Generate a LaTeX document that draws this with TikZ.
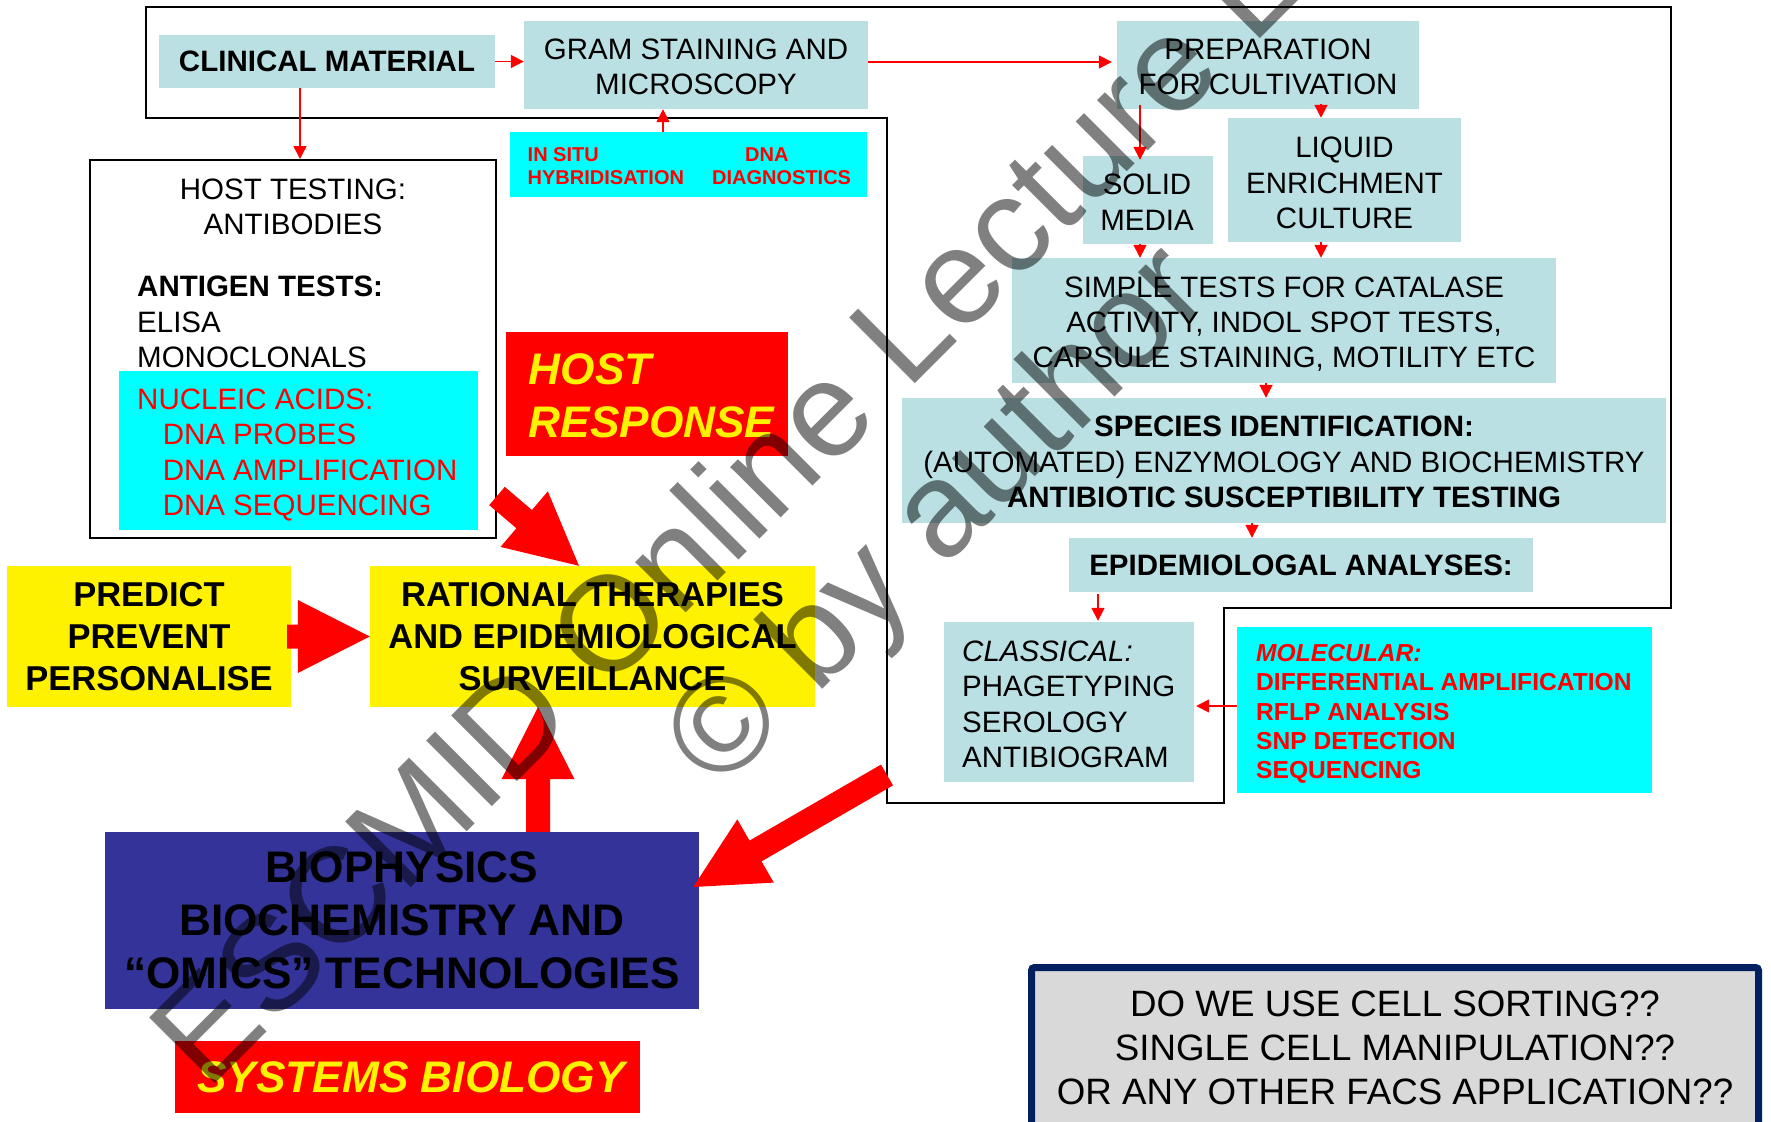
\documentclass[tikz,border=0pt]{standalone}
\usepackage{fontspec}
\setmainfont{Liberation Sans}
\usetikzlibrary{calc,arrows.meta}
\definecolor{lb}{RGB}{187,224,227}
\definecolor{cy}{RGB}{0,255,255}
\definecolor{bioblue}{RGB}{51,51,153}
\definecolor{facsgray}{RGB}{217,217,217}
\definecolor{navyb}{RGB}{0,32,96}
\definecolor{wmgray}{RGB}{128,128,128}
\newcommand\fmain{\fontsize{29.5pt}{35.4pt}\selectfont}
\newcommand\fsmall{\fontsize{20pt}{23.7pt}\selectfont}
\newcommand\fmol{\fontsize{24.6pt}{29.4pt}\selectfont}
\newcommand\fbig{\fontsize{34.5pt}{42pt}\selectfont}
\newcommand\fhuge{\fontsize{44.2pt}{52.8pt}\selectfont}
\newcommand\ffacs{\fontsize{36.7pt}{44pt}\selectfont}
\newcommand\fwm{\fontsize{135pt}{162pt}\selectfont}
\newcommand\blockarrow[2]{%
  \path ($(#2)!72pt!(#1)$) coordinate (bah);
  \fill[red] ($(#1)!12pt!90:(#2)$) -- ($(bah)!12pt!90:(#2)$) -- ($(bah)!36.5pt!90:(#2)$) -- (#2) -- ($(bah)!36.5pt!-90:(#2)$) -- ($(bah)!12pt!-90:(#2)$) -- ($(#1)!12pt!-90:(#2)$) -- cycle;}
\begin{document}
\begin{tikzpicture}[x=1pt,y=-1pt,
  lbbox/.style={fill=lb, inner sep=0pt, align=center},
  cybox/.style={fill=cy, inner sep=0pt},
  txt/.style={inner sep=0pt},
  bx/.style 2 args={minimum width=#1pt, minimum height=#2pt},
  tarrow/.style={draw=red, line width=1.6pt, -{Triangle[length=13pt,width=13pt]}},
  wmtext/.style={inner sep=0pt, font=\fwm, text=wmgray, rotate=45, anchor=base}]
\useasboundingbox (0,0) rectangle (1771,1121);
\fill[white] (0,0) rectangle (1771,1121);
% frame
\draw[line width=2pt, line join=miter] (146,7) -- (1671,7) -- (1671,608) -- (1224,608) -- (1224,803) -- (887,803) -- (887,118) -- (146,118) -- cycle;
% boxes
\node[lbbox, font=\fmain\bfseries, bx={336}{53}] (clin) at (327,61.5) {CLINICAL MATERIAL};
\node[lbbox, bx={344}{88}] (gram) at (696,65) {};
\node[txt, font=\fmain, align=center] (gramtxt) at (696,67) {GRAM STAINING AND\\MICROSCOPY};
\node[cybox, bx={357}{65}] (insitu) at (688.5,164.5) {};
\node[txt, anchor=west, font=\fsmall\bfseries, text=red, align=left] (insitutxt) at (527.5,166) {\makebox[217.5pt][l]{IN SITU}DNA\\\makebox[184.5pt][l]{HYBRIDISATION}DIAGNOSTICS};
\node[lbbox, bx={302}{88}] (prep) at (1268,65) {};
\node[txt, font=\fmain, align=center] (preptxt) at (1268,67) {PREPARATION\\FOR CULTIVATION};
\node[lbbox, bx={130}{88}] (solid) at (1148,200) {};
\node[txt, font=\fmain, align=center] (solidtxt) at (1147,202) {SOLID\\MEDIA};
\node[lbbox, bx={233}{124}] (liq) at (1344.5,180) {};
\node[txt, font=\fmain, align=center] (liqtxt) at (1344.5,183) {LIQUID\\ENRICHMENT\\CULTURE};
\node[lbbox, bx={544}{125}] (simple) at (1284,320.5) {};
\node[txt, font=\fmain, align=center] (simpletxt) at (1284,324) {SIMPLE TESTS FOR CATALASE\\ACTIVITY, INDOL SPOT TESTS,\\CAPSULE STAINING, MOTILITY ETC};
\node[lbbox, bx={764}{125}] (species) at (1284,460.5) {};
\node[txt, font=\fmain, align=center] (speciestxt) at (1284,462) {\textbf{SPECIES IDENTIFICATION:}\\(AUTOMATED) ENZYMOLOGY AND BIOCHEMISTRY\\\textbf{ANTIBIOTIC SUSCEPTIBILITY TESTING}};
\node[lbbox, font=\fmain\bfseries, bx={464}{54}] (epi) at (1301,565) {EPIDEMIOLOGAL ANALYSES:};
\node[lbbox, bx={250}{160}] (class) at (1069,702) {};
\node[txt, anchor=west, font=\fmain, align=left] (classtxt) at (962,704.5) {\textit{CLASSICAL:}\\PHAGETYPING\\SEROLOGY\\ANTIBIOGRAM};
\node[cybox, bx={415}{166}] (mol) at (1444.5,710) {};
\node[txt, anchor=west, font=\fmol\bfseries, text=red, align=left] (moltxt) at (1256,714) {\textit{MOLECULAR:}\\DIFFERENTIAL AMPLIFICATION\\RFLP ANALYSIS\\SNP DETECTION\\SEQUENCING};
\node[draw=black, line width=2pt, fill=white, inner sep=0pt, bx={406}{378}] (host) at (293,349) {};
\node[txt, font=\fmain, align=center] (hosttxt) at (293,207) {HOST TESTING:\\ANTIBODIES};
\node[txt, anchor=west, font=\fmain, align=left] (antigen) at (137,322) {\textbf{ANTIGEN TESTS:}\\ELISA\\MONOCLONALS};
\node[cybox, bx={359}{159}] (nuc) at (298.5,450.5) {};
\node[txt, anchor=west, font=\fmain, text=red, align=left] (nuctxt) at (137,455) {NUCLEIC ACIDS:\\\hspace*{25.6pt}DNA PROBES\\\hspace*{25.6pt}DNA AMPLIFICATION\\\hspace*{25.6pt}DNA SEQUENCING};
\node[fill=red, inner sep=0pt, bx={282}{124}] (hresp) at (647,394) {};
\node[txt, anchor=west, font=\fhuge\bfseries\itshape, text=yellow, align=left] (hresptxt) at (528.6,395.5) {HOST\\RESPONSE};
\node[fill=yellow, inner sep=0pt, align=center, font=\fbig\bfseries, bx={284}{141}] (pred) at (149,636.5) {PREDICT\\PREVENT\\PERSONALISE};
\node[fill=yellow, inner sep=0pt, align=center, font=\fbig\bfseries, bx={445}{141}] (rat) at (592.5,636.5) {RATIONAL THERAPIES\\AND EPIDEMIOLOGICAL\\SURVEILLANCE};
\node[fill=bioblue, inner sep=0pt, align=center, font=\fhuge\bfseries, bx={594}{177}] (bio) at (402,920.5) {BIOPHYSICS\\BIOCHEMISTRY AND\\“OMICS” TECHNOLOGIES};
\node[fill=red, inner sep=0pt, font=\fhuge\bfseries\itshape, text=yellow, bx={465}{72}] (sysbio) at (407.5,1077) {\hspace*{7pt}SYSTEMS BIOLOGY};
\node[draw=navyb, line width=7pt, fill=facsgray, rounded corners=3pt, inner sep=0pt, align=center, font=\ffacs, bx={727}{160}] (facs) at (1395,1047.5) {DO WE USE CELL SORTING??\\SINGLE CELL MANIPULATION??\\OR ANY OTHER FACS APPLICATION??};
% thin arrows
\draw[tarrow] (clin.east) -- (clin.east -| gram.west);
\coordinate (c2) at ($(clin.south)+(-27,0)$);
\draw[tarrow] (c2) -- (c2 |- host.north);
\coordinate (c3) at ($(insitu.north)+(-25.5,0)$);
\draw[tarrow] (c3) -- (c3 |- gram.south);
\coordinate (c4) at ($(gram.east)+(0,-3)$);
\draw[tarrow] (c4) -- ($(c4 -| prep.west)+(-5,0)$);
\coordinate (c5) at ($(prep.south)+(-128,-4)$);
\draw[tarrow] (c5) -- ($(c5 |- solid.north)+(0,4)$);
\coordinate (c6) at ($(prep.south)+(53,-5)$);
\draw[tarrow] (c6) -- (c6 |- liq.north);
\coordinate (c7) at ($(solid.south)+(-8,0)$);
\draw[tarrow] (c7) -- (c7 |- simple.north);
\coordinate (c8) at ($(liq.south)+(-23.5,0)$);
\draw[tarrow] (c8) -- (c8 |- simple.north);
\coordinate (c9) at ($(simple.south)+(-18,0)$);
\draw[tarrow] (c9) -- (c9 |- species.north);
\coordinate (c10) at ($(species.south)+(-32,0)$);
\draw[tarrow] (c10) -- (c10 |- epi.north);
\coordinate (c11) at ($(epi.south)+(-203,2)$);
\draw[tarrow] (c11) -- ($(c11 |- class.north)+(0,-1)$);
\coordinate (c12) at ($(mol.west)+(0,-4)$);
\draw[tarrow] (c12) -- ($(c12 -| class.east)+(2,0)$);
% block arrows
\coordinate (b1s) at (497,496);
\coordinate (b1e) at ($(rat.north)+(-13.5,0)$);
\blockarrow{b1s}{b1e}
\coordinate (b2s) at ($(pred.east)+(-4,0)$);
\blockarrow{b2s}{rat.west}
\coordinate (b3s) at ($(bio.north)+(136,0)$);
\coordinate (b3e) at (b3s |- rat.south);
\blockarrow{b3s}{b3e}
\coordinate (b4s) at (887,775);
\coordinate (b4e) at ($(bio.east)+(-6,-33.5)$);
\blockarrow{b4s}{b4e}
% watermark
\begin{scope}[blend mode=multiply]
\node[wmtext] (wm1) at (876,423) {ESCMID Online Lecture Library};
\node[wmtext] (wm2) at (967,545) {© by author};
\end{scope}
\end{tikzpicture}
\end{document}
